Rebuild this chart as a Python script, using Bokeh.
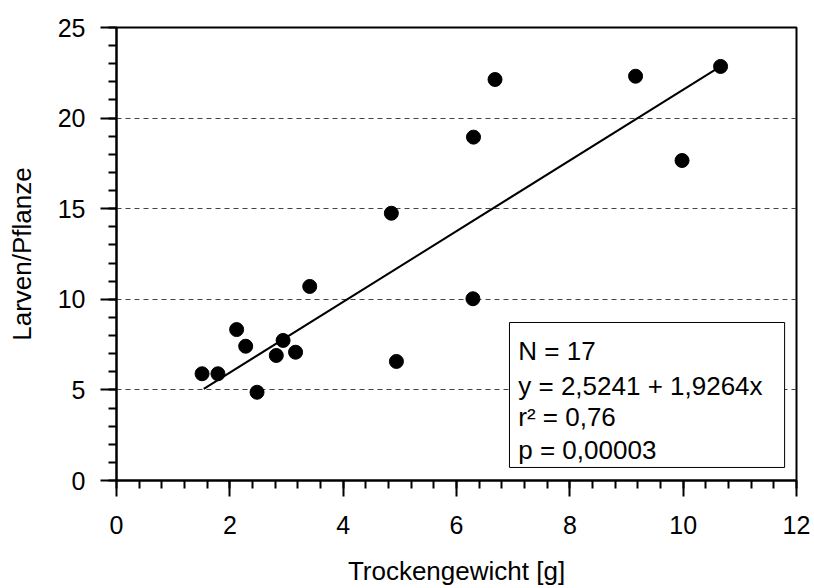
from bokeh.plotting import figure
from bokeh.models import Range1d, FixedTicker, BoxAnnotation, Label
from bokeh.embed import file_html
from bokeh.resources import INLINE

# Data
trockengewicht = [1.51, 1.79, 2.12, 2.28, 2.48, 2.82, 2.94, 3.16, 3.41,
                  4.85, 4.94, 6.29, 6.30, 6.68, 9.16, 9.98, 10.66]
larven = [5.89, 5.89, 8.33, 7.41, 4.87, 6.90, 7.73, 7.08, 10.71,
          14.75, 6.57, 10.03, 18.95, 22.13, 22.31, 17.66, 22.85]

# regression line as drawn (end points)
fit_x = [1.54, 10.66]
fit_y = [5.06, 22.85]

x_ticks = [0, 2, 4, 6, 8, 10, 12]
y_ticks = [0, 5, 10, 15, 20, 25]
grid_lines = [5, 10, 15, 20]

stats_lines = ["N = 17", "y = 2,5241 + 1,9264x", "r\u00b2 = 0,76", "p = 0,00003"]

FONT = "Liberation Sans"

p = figure(width=814, height=588, output_backend="svg", toolbar_location=None,
           x_range=Range1d(0, 12), y_range=Range1d(0, 25),
           min_border_left=116, min_border_right=18, min_border_top=27,
           min_border_bottom=108, background_fill_color="white",
           border_fill_color="white")

p.outline_line_color = "black"
p.outline_line_width = 2

p.xgrid.visible = False
p.ygrid.ticker = FixedTicker(ticks=grid_lines)
p.ygrid.grid_line_color = "#444444"
p.ygrid.grid_line_dash = "5 4"
p.ygrid.grid_line_width = 1

p.xaxis.ticker = FixedTicker(ticks=x_ticks, minor_ticks=[i * 0.4 for i in range(31)])
p.yaxis.ticker = FixedTicker(ticks=y_ticks, minor_ticks=list(range(26)))

for ax in (p.xaxis[0], p.yaxis[0]):
    ax.axis_line_color = "black"
    ax.axis_line_width = 2
    ax.major_tick_line_color = "black"
    ax.major_tick_line_width = 2
    ax.minor_tick_line_color = "black"
    ax.minor_tick_line_width = 2
    ax.major_tick_in = 0
    ax.major_tick_out = 16
    ax.minor_tick_in = 0
    ax.minor_tick_out = 8
    ax.major_label_text_font = FONT
    ax.major_label_text_font_size = "25px"
    ax.major_label_text_color = "black"
    ax.axis_label_text_font = FONT
    ax.axis_label_text_font_size = "26px"
    ax.axis_label_text_font_style = "normal"
    ax.axis_label_text_color = "black"
    ax.major_label_standoff = 15

p.xaxis.major_label_standoff = 19
p.xaxis.axis_label = "Trockengewicht [g]"
p.yaxis.axis_label = "Larven/Pflanze"
p.xaxis.axis_label_standoff = 19
p.yaxis.axis_label_standoff = 18

p.line(fit_x, fit_y, line_color="black", line_width=2)
p.scatter(trockengewicht, larven, size=14, fill_color="black", line_color="black")

box = BoxAnnotation(left=6.935, right=11.79, bottom=0.72, top=8.72,
                    fill_color="white", fill_alpha=1.0,
                    line_color="black", line_alpha=1.0, line_width=1)
p.add_layout(box)

baselines = [7.17, 5.24, 3.48, 1.66]
for txt, yb in zip(stats_lines, baselines):
    p.add_layout(Label(x=7.09, y=yb, text=txt, text_font=FONT,
                       text_font_size="26px", text_color="black",
                       text_baseline="alphabetic", text_align="left"))

open("out.html", "w").write(file_html(p, INLINE))
